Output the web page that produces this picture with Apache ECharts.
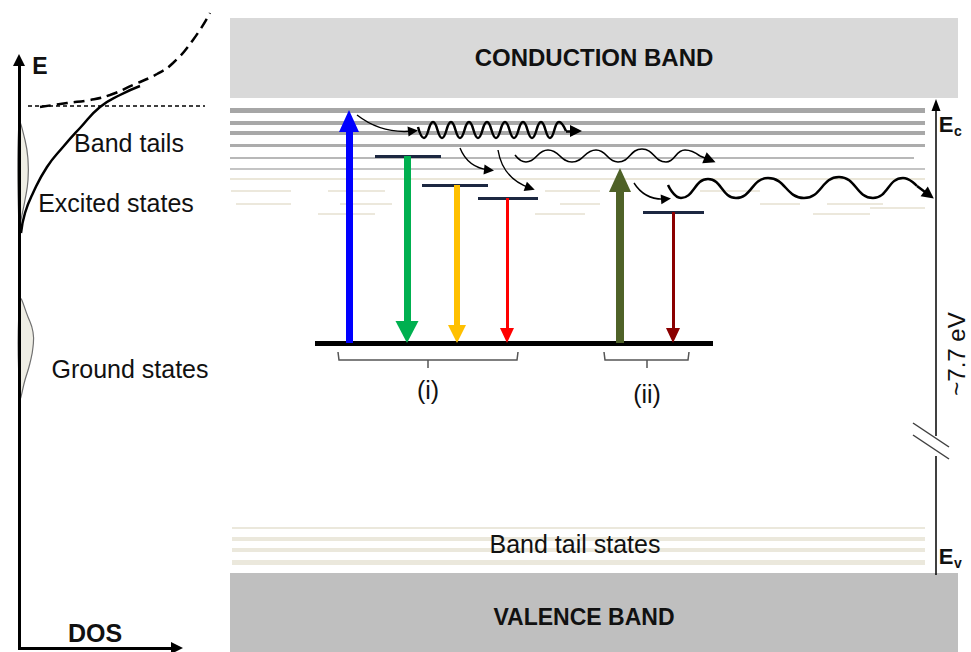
<!DOCTYPE html>
<html><head><meta charset="utf-8">
<script src="https://cdn.jsdelivr.net/npm/echarts@6/dist/echarts.min.js"></script>
<style>html,body{margin:0;padding:0;background:#fff}#chart{width:971px;height:652px}</style>
</head><body><div id="chart"></div>
<script>
// ================= DATA (diagram units, y grows downward = lower energy) =================
// Bands: [x0, x1, yTop, yBottom]
const bandRects = [[230, 958, 18, 98], [230, 958, 573, 652]];
const bandNames = ['CONDUCTION BAND', 'VALENCE BAND'];

// Conduction-band tail levels (full lines): y and right end
const cbTailY   = [110, 123, 133, 145, 158, 169, 179];
const cbTailEnd = [925, 925, 925, 925, 914, 925, 925];
const tailStart = 230;
// Broken deep tail levels: [x0, x1, y]
const cbTailSegs = [
  [231, 291, 191], [328, 385, 191], [545, 600, 191], [700, 760, 191],
  [236, 291, 204], [340, 392, 204], [560, 600, 204], [760, 800, 204], [827, 883, 204],
  [870, 925, 208], [318, 375, 214], [535, 585, 214], [813, 870, 214]
];
// Valence-band tail levels
const vbTailY = [528, 539, 550, 562];
const vbTailEnd = 925;

// Localised levels: [x0, x1, y]
const levels = [[375, 441, 156], [422, 488, 185], [478, 538, 198], [643, 704, 212]];
const groundLevel = [315, 713, 343];

// Optical transitions: x, start y, tip y
const transX    = [349, 407, 457, 507, 620, 673];
const transFrom = [343, 156, 185, 198, 343, 212];
const transTo   = [110, 343, 343, 343, 168, 343];

// Curved relaxation arrows: [x0, y0, x1, y1]
const relaxArrows = [[357, 115, 413, 131], [460, 148, 489, 170], [498, 150, 530, 188], [634, 183, 666, 199]];

// Wavy (thermalisation) paths: peaks / troughs
const wave1 = [[418,127],[424,138],[433,122],[442,138],[451,122],[460,138],[469,122],[478,138],[487,122],[496,138],[505,122],[514,138],[523,122],[532,138],[541,122],[550,138],[559,122],[566,131]];
const wave1End = [576, 131];
const wave2 = [[515,155],[526,162],[548,150],[572,162],[596,150],[618,162],[642,149],[666,162],[685,150],[700,156]];
const wave2End = [710, 160];
const wave3 = [[668,185],[681,198],[708,179],[736,198],[768,178],[804,198],[839,177],[873,198],[903,178],[917,186]];
const wave3End = [929, 195];

// Brackets: [x0, x1, xTick, y]
const brackets = [[338, 518, 428, 360], [604, 689, 647, 360]];
const bracketLabels = ['(i)', '(ii)'];
const bracketLabelY = [390, 394];

// DOS panel
const dosOrigin = [19, 648];
const dosTopTip = 55;
const dosRightTip = 182;
const ecDashY = 106, ecDashX = [28, 205];
const dosTail = [[21,233],[25,213],[33,193],[47,167],[63,147],[80,128],[100,107],[120,95],[140,86]];
const dosBand = [[40,107],[67,103],[90,100],[110,95],[133,85],[157,74],[173,63],[193,40],[210,13]];
const excitedBump = [[19,123],[25,140],[28,160],[28,180],[25,200],[21,220],[19,232]];
const groundBump  = [[20,300],[28,317],[33,332],[33,347],[30,363],[25,380],[20,397]];

// Energy-gap axis on the right
const gapAxisX = 936, gapAxisTop = 100, gapAxisBottom = 575, gapBreak = [436, 456];
const breakSlashes = [[913, 423, 949, 447], [913, 435, 949, 459]];

// Text labels: [text, x, y]
const plainLabels = [['Band tails', 129, 143], ['Excited states', 116, 203], ['Ground states', 130, 369], ['Band tail states', 575, 544]];
const boldLabels = [['E', 40, 66], ['DOS', 95, 633]];
const gapLabel = ['~7.7 eV', 956, 354];
const edgeLabels = [['E', 'c', 946, 124], ['E', 'v', 946, 556]];

// ================= STYLES =================
const FONT = "'Liberation Sans', Arial, sans-serif";
const tailWidth = [5, 4, 4, 3, 2, 2, 1.5];
const tailColor = ['#a6a6a6', '#a8a8a8', '#a8a8a8', '#acacac', '#b8b8b8', '#c4c4c4', '#e4dfcc'];
const vbTailWidth = [2, 4, 4, 5];
const transColor = ['#0000ff', '#00b050', '#ffc000', '#ff0000', '#4f6228', '#8b0000'];
const transShaft = [7, 7, 6, 3, 8, 3];
const transHead  = [[20, 22], [23, 22], [18, 18], [14, 15], [22, 24], [14, 15]];

// ================= BUILD =================
const chart = echarts.init(document.getElementById('chart'), null, {renderer: 'svg'});

const seg = (x0, y0, x1, y1, w, c, extra) => Object.assign({coords: [[x0, y0], [x1, y1]], lineStyle: {width: w, color: c, opacity: 1}}, extra || {});

// band tail lines
const tailLines = [];
cbTailY.forEach((y, i) => tailLines.push(seg(tailStart, y, cbTailEnd[i], y, tailWidth[i], tailColor[i])));
cbTailSegs.forEach(s => tailLines.push(seg(s[0], s[2], s[1], s[2], 1.5, '#e6e1d0')));
vbTailY.forEach((y, i) => tailLines.push(seg(tailStart + 2, y, vbTailEnd, y, vbTailWidth[i], '#ebe8dc')));

// shafts + heads
const shafts = [], heads = [];
transX.forEach((x, i) => {
  const up = transTo[i] < transFrom[i];
  const h = transHead[i][1];
  const base = up ? transTo[i] + h - 1 : transTo[i] - h + 1;
  shafts.push(seg(x, transFrom[i], x, base, transShaft[i], transColor[i]));
  heads.push({value: [x, up ? transTo[i] + h / 2 : transTo[i] - h / 2], symbolSize: transHead[i], symbolRotate: up ? 0 : 180, itemStyle: {color: transColor[i]}});
});

// levels
const levelLines = levels.map(l => seg(l[0], l[2], l[1], l[2], 3, '#1c2841'));
levelLines.push(seg(groundLevel[0], groundLevel[2], groundLevel[1], groundLevel[2], 5, '#000'));

// brackets
const bracketLines = [];
brackets.forEach(b => {
  bracketLines.push({coords: [[b[0], b[3] - 8], [b[0] + 1, b[3]], [b[1] - 1, b[3]], [b[1], b[3] - 8]], lineStyle: {width: 1.5, color: '#555', opacity: 1}});
  bracketLines.push(seg(b[2], b[3], b[2], b[3] + 8, 1.5, '#555'));
});

// axes lines (DOS + gap)
const axisLines = [
  seg(dosOrigin[0], dosOrigin[1] + 1, dosOrigin[0], dosTopTip + 9, 3, '#000'),
  seg(dosOrigin[0] - 1, dosOrigin[1], dosRightTip - 9, dosOrigin[1], 3, '#000'),
  seg(gapAxisX, gapAxisBottom, gapAxisX, gapBreak[1], 1.5, '#000'),
  seg(gapAxisX, gapBreak[0], gapAxisX, gapAxisTop + 9, 1.5, '#000')
];
breakSlashes.forEach(s => axisLines.push(seg(s[0], s[1], s[2], s[3], 1.5, '#404040')));
const axisHeads = [
  {value: [dosOrigin[0], dosTopTip + 5], symbolSize: [12, 12], symbolRotate: 0},
  {value: [dosRightTip - 5, dosOrigin[1]], symbolSize: [12, 12], symbolRotate: -90},
  {value: [gapAxisX, gapAxisTop + 5], symbolSize: [9, 12], symbolRotate: 0}
];

// curved arrows
const relaxLines = relaxArrows.map((a, i) => ({coords: [[a[0], a[1]], [a[2], a[3]]], lineStyle: {width: 1.4, color: '#000', opacity: 1, curveness: i === 0 ? -0.2 : -0.3}}));
const waveArrowSegs = [
  seg(wave1[wave1.length - 1][0], wave1[wave1.length - 1][1], wave1End[0], wave1End[1], 2.5, '#000'),
  seg(wave2[wave2.length - 1][0], wave2[wave2.length - 1][1], wave2End[0], wave2End[1], 1.6, '#000'),
  seg(wave3[wave3.length - 1][0], wave3[wave3.length - 1][1], wave3End[0], wave3End[1], 2.5, '#000')
];

const lineS = (data, w, extra) => Object.assign({type: 'line', data: data, smooth: 0.5, symbol: 'none', silent: true, z: 6,
  lineStyle: {width: w, color: '#000'}}, extra || {});

const polygonSeries = (pts, z) => ({
  type: 'custom', silent: true, z: z, clip: false, data: [[pts[0][0], pts[0][1]]],
  renderItem: (p, api) => ({type: 'polygon', shape: {points: pts.map(q => api.coord(q)), smooth: 0.5},
    style: {fill: '#efeee5', stroke: '#707070', lineWidth: 1.2}})
});

const textItems = [];
bandNames.forEach((t, i) => textItems.push({t: t, x: (bandRects[i][0] + bandRects[i][1]) / 2 + (i === 0 ? 0 : -10), y: (bandRects[i][2] + bandRects[i][3]) / 2 + (i === 0 ? -1 : 4), font: 'bold ' + (i === 0 ? 24 : 23) + 'px ' + FONT}));
plainLabels.forEach(l => textItems.push({t: l[0], x: l[1], y: l[2], font: '25px ' + FONT}));
boldLabels.forEach((l, i) => textItems.push({t: l[0], x: l[1], y: l[2], font: 'bold ' + (i === 0 ? 23 : 25) + 'px ' + FONT}));
bracketLabels.forEach((t, i) => textItems.push({t: t, x: brackets[i][2], y: bracketLabelY[i], font: '25px ' + FONT}));
textItems.push({t: gapLabel[0], x: gapLabel[1], y: gapLabel[2], font: '24px ' + FONT, rot: Math.PI / 2});
edgeLabels.forEach(l => {
  textItems.push({t: l[0], x: l[2], y: l[3], font: 'bold 22px ' + FONT});
  textItems.push({t: l[1], x: l[2] + 12, y: l[3] + 7, font: 'bold 14px ' + FONT});
});

const option = {
  animation: false,
  grid: {left: 0, right: 0, top: 0, bottom: 0, containLabel: false},
  xAxis: {type: 'value', min: 0, max: 971, show: false},
  yAxis: {type: 'value', min: 0, max: 652, inverse: true, show: false},
  series: [
    { // bands
      type: 'custom', silent: true, z: 1, clip: false,
      data: bandRects.map(r => [r[0], r[2], r[1], r[3]]),
      renderItem: (p, api) => {
        const a = api.coord([api.value(0), api.value(1)]), b = api.coord([api.value(2), api.value(3)]);
        return {type: 'rect', shape: {x: a[0], y: a[1], width: b[0] - a[0], height: b[1] - a[1]},
          style: {fill: p.dataIndex === 0 ? '#d9d9d9' : '#bfbfbf'}};
      }
    },
    {type: 'lines', coordinateSystem: 'cartesian2d', silent: true, z: 2, data: tailLines},
    polygonSeries(excitedBump, 3),
    polygonSeries(groundBump, 3),
    {type: 'lines', coordinateSystem: 'cartesian2d', silent: true, z: 4,
      data: [seg(ecDashX[0], ecDashY, ecDashX[1], ecDashY, 1.5, '#000', {lineStyle: {width: 1.5, color: '#000', opacity: 1, type: [4, 3]}})]},
    lineS(dosBand, 2.5, {lineStyle: {width: 2.5, color: '#000', type: [11, 6]}}),
    lineS(dosTail, 2.5),
    {type: 'lines', coordinateSystem: 'cartesian2d', silent: true, z: 5, data: axisLines},
    {type: 'scatter', silent: true, z: 5, symbol: 'triangle', itemStyle: {color: '#000', opacity: 1}, data: axisHeads},
    {type: 'lines', coordinateSystem: 'cartesian2d', silent: true, z: 5, data: levelLines},
    {type: 'lines', coordinateSystem: 'cartesian2d', silent: true, z: 5, data: bracketLines, polyline: true},
    {type: 'lines', coordinateSystem: 'cartesian2d', silent: true, z: 6, data: shafts},
    {type: 'scatter', silent: true, z: 6, symbol: 'triangle', itemStyle: {opacity: 1}, data: heads},
    lineS(wave1, 2.5),
    lineS(wave2, 1.6),
    lineS(wave3, 2.5),
    {type: 'lines', coordinateSystem: 'cartesian2d', silent: true, z: 7, data: waveArrowSegs,
      symbol: ['none', 'triangle'], symbolSize: 12},
    {type: 'lines', coordinateSystem: 'cartesian2d', silent: true, z: 7, data: relaxLines,
      symbol: ['none', 'triangle'], symbolSize: 10},
    { // texts
      type: 'custom', silent: true, z: 10, clip: false,
      data: textItems.map(t => [t.x, t.y]),
      renderItem: (p, api) => {
        const it = textItems[p.dataIndex];
        const c = api.coord([api.value(0), api.value(1)]);
        return {type: 'text', x: c[0], y: c[1], rotation: it.rot || 0,
          style: {text: it.t, font: it.font, fill: '#111', align: 'center', verticalAlign: 'middle'}};
      }
    }
  ]
};
chart.setOption(option);
</script></body></html>
